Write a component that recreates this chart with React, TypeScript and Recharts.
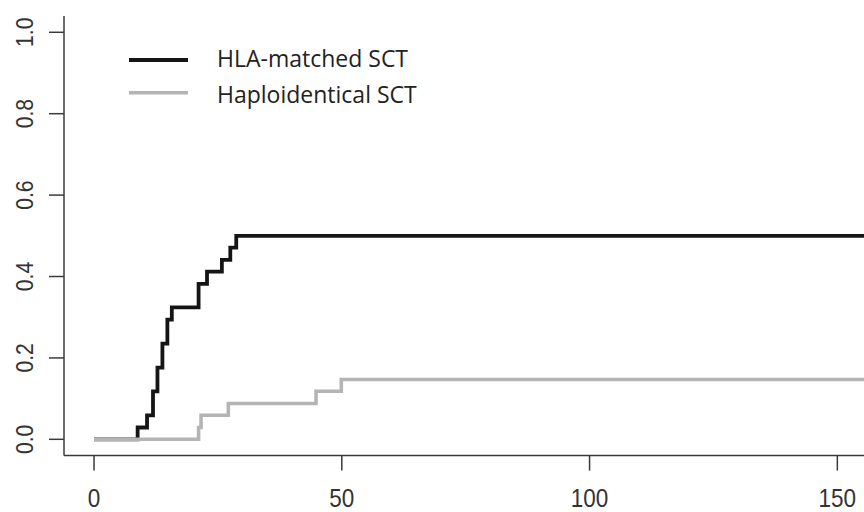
import React from "react";
import { LineChart, Line, XAxis, YAxis } from "recharts";

// HLA-matched SCT: event times (days) and cumulative incidence
const hlaTimes = [0, 8.8, 10.7, 11.9, 12.8, 13.8, 14.8, 15.7, 21.1, 22.8, 25.8, 27.5, 28.7, 157];
const hlaValues = [0, 0.029, 0.059, 0.118, 0.176, 0.235, 0.294, 0.324, 0.382, 0.412, 0.441, 0.471, 0.5, 0.5];

// Haploidentical SCT
const haploTimes = [0, 21.1, 21.6, 27.1, 44.8, 49.9, 157];
const haploValues = [0, 0.029, 0.059, 0.088, 0.118, 0.147, 0.147];

const xTicks = [0, 50, 100, 150];
const yTicks = [0, 0.2, 0.4, 0.6, 0.8, 1.0];
const seriesNames = ["HLA-matched SCT", "Haploidentical SCT"];
const seriesColors = ["#151515", "#b4b4b4"];

const hlaData = hlaTimes.map((t, i) => ({ t, y: hlaValues[i] }));
const haploData = haploTimes.map((t, i) => ({ t, y: haploValues[i] }));

const AXIS = "#3a3a3a";
const TICKFONT = "'Liberation Sans', Arial, sans-serif";

const XTick = (props: any) => {
  const { x, payload } = props;
  return (
    <text
      transform={`translate(${x},507) scale(0.9,1)`}
      textAnchor="middle"
      fontSize={25}
      fill="#333"
      fontFamily={TICKFONT}
    >
      {payload.value}
    </text>
  );
};

const YTick = (props: any) => {
  const { y, payload } = props;
  return (
    <text
      transform={`translate(33,${y}) rotate(-90) scale(0.88,1)`}
      textAnchor="middle"
      fontSize={24}
      fill="#333"
      fontFamily={TICKFONT}
    >
      {Number(payload.value).toFixed(1)}
    </text>
  );
};

export default function App() {
  return (
    <div style={{ position: "absolute", left: 0, top: 0, width: 864, height: 512, overflow: "hidden", background: "#fff" }}>
      <LineChart
        width={900}
        height={512}
        margin={{ top: 16, right: 25, bottom: 0, left: 0 }}
      >
        <XAxis
          type="number"
          dataKey="t"
          domain={[-6.06, 157.6]}
          ticks={xTicks}
          allowDataOverflow
          height={56.4}
          tickSize={15}
          tick={<XTick />}
          axisLine={{ stroke: AXIS, strokeWidth: 1.5 }}
          tickLine={{ stroke: AXIS, strokeWidth: 1.5 }}
        />
        <YAxis
          type="number"
          dataKey="y"
          domain={[-0.04, 1.04]}
          ticks={yTicks}
          allowDataOverflow
          width={64}
          tickSize={15}
          tick={<YTick />}
          axisLine={{ stroke: AXIS, strokeWidth: 1.5 }}
          tickLine={{ stroke: AXIS, strokeWidth: 1.5 }}
        />
        <Line
          data={hlaData}
          dataKey="y"
          type="stepAfter"
          stroke={seriesColors[0]}
          strokeWidth={3.8}
          dot={false}
          activeDot={false}
          isAnimationActive={false}
          strokeLinejoin="miter"
          strokeLinecap="butt"
        />
        <Line
          data={haploData}
          dataKey="y"
          type="stepAfter"
          stroke={seriesColors[1]}
          strokeWidth={3.6}
          dot={false}
          activeDot={false}
          isAnimationActive={false}
          strokeLinejoin="miter"
          strokeLinecap="butt"
        />
      </LineChart>
      <svg width={864} height={512} style={{ position: "absolute", left: 0, top: 0, pointerEvents: "none" }}>
        <line x1={129} x2={188} y1={60} y2={60} stroke={seriesColors[0]} strokeWidth={4} />
        <line x1={129} x2={188} y1={92.7} y2={92.7} stroke={seriesColors[1]} strokeWidth={3.6} />
        <text x={217} y={67} fontSize={23} fill="#222" fontFamily="'Open Sans', sans-serif">{seriesNames[0]}</text>
        <text x={217} y={103} fontSize={23} fill="#222" fontFamily="'Open Sans', sans-serif">{seriesNames[1]}</text>
      </svg>
    </div>
  );
}
